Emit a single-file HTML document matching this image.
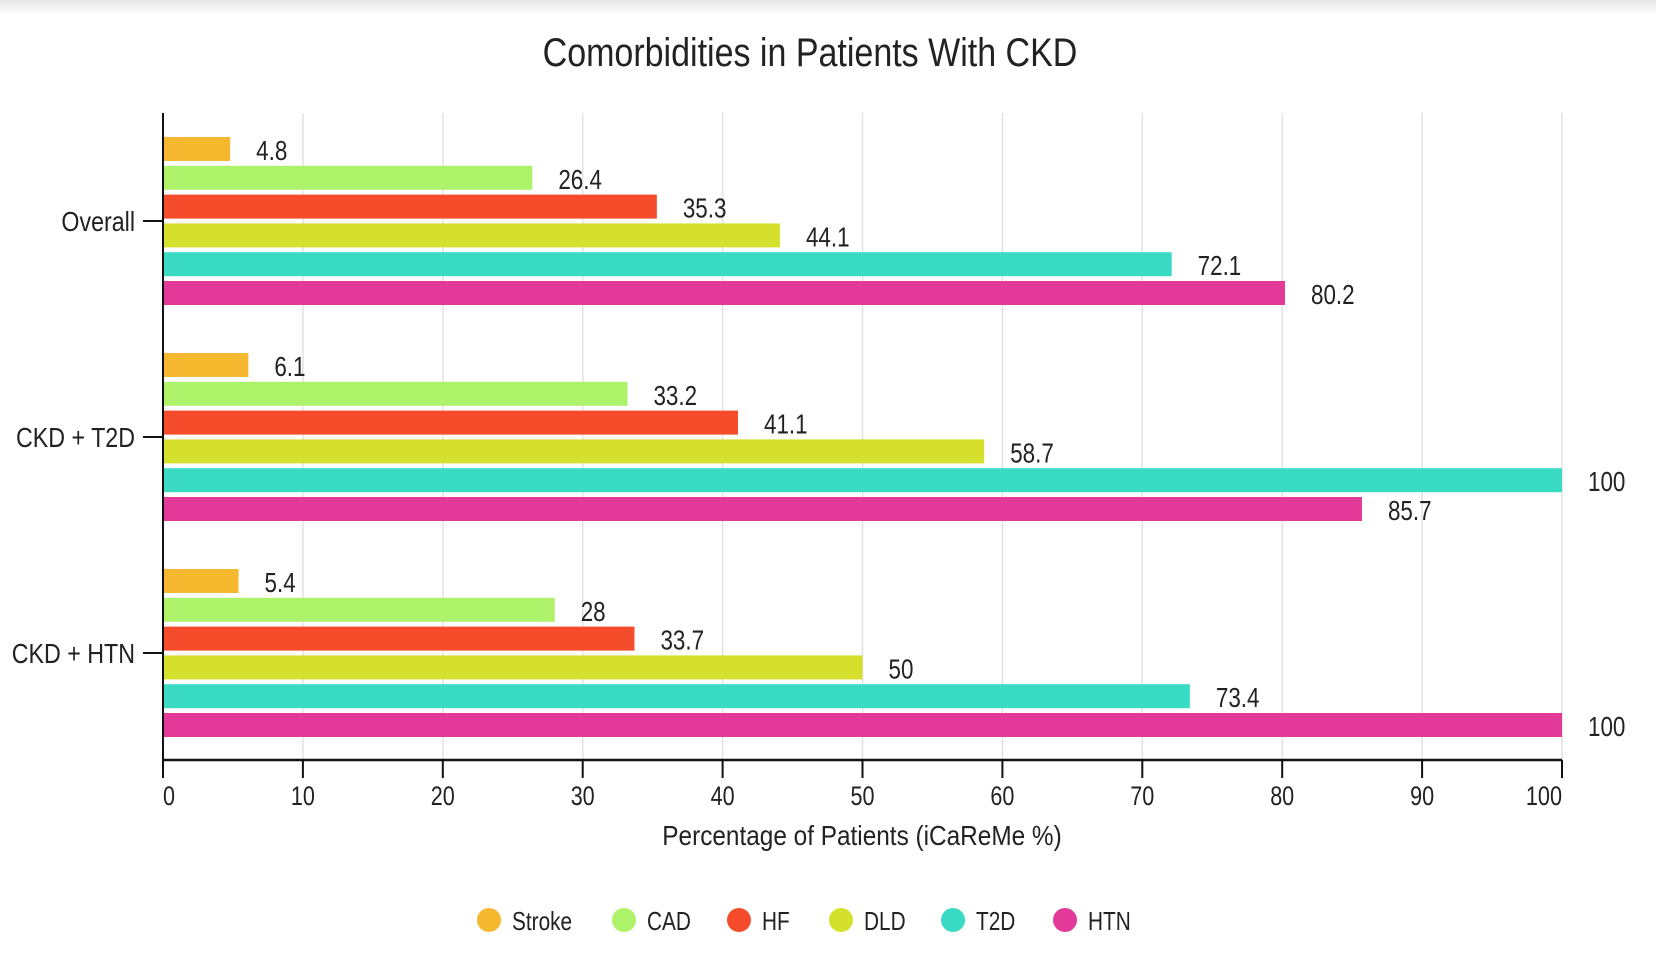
<!DOCTYPE html>
<html><head><meta charset="utf-8"><style>
html,body{margin:0;padding:0;background:#fff;}
body{width:1656px;height:968px;overflow:hidden;position:relative;font-family:"Liberation Sans Narrow","Liberation Sans",sans-serif;}
#shadow{position:absolute;left:0;top:0;width:1656px;height:14px;background:linear-gradient(#e6e6e6,#fff);}
svg text{font-family:"Liberation Sans Narrow","Liberation Sans",sans-serif;fill:#222;}
</style></head><body>
<div id="shadow"></div>
<svg id="chart" width="1656" height="968" style="position:absolute;left:0;top:0"></svg>
<script>
const categories=["Overall","CKD + T2D","CKD + HTN"];
const seriesNames=["Stroke","CAD","HF","DLD","T2D","HTN"];
const strokeVals=[4.8,6.1,5.4];
const cadVals=[26.4,33.2,28];
const hfVals=[35.3,41.1,33.7];
const dldVals=[44.1,58.7,50];
const t2dVals=[72.1,100,73.4];
const htnVals=[80.2,85.7,100];
const xTicks=[0,10,20,30,40,50,60,70,80,90,100];
const colors=["#F5B82E","#AEF26A","#F54D2B","#D4E02B","#3ADBC4","#E33A9A"];
const series=[strokeVals,cadVals,hfVals,dldVals,t2dVals,htnVals];
const svg=document.getElementById('chart');
const NS="http://www.w3.org/2000/svg";
const L=163,R=1562,T=113,B=760;
const x=v=>L+(R-L)*v/100;
const groupTop=i=>137+i*216;
const barStep=28.8,barH=24;
const texts=[];
function mk(tag,attrs,txt,f){const e=document.createElementNS(NS,tag);for(const k in attrs)e.setAttribute(k,attrs[k]);if(txt!==undefined)e.textContent=txt;svg.appendChild(e);if(tag==='text')texts.push([e,f||0.8]);return e;}
const title=mk('text',{x:810,y:66,'text-anchor':'middle','font-size':40},'Comorbidities in Patients With CKD',0.85);


xTicks.forEach(t=>{
  if(t>0){const g=mk('line',{x1:x(t),x2:x(t),y1:T,y2:B,stroke:'#e2e2e2','stroke-width':1.5});
  
  }
  const tk=mk('line',{x1:x(t),x2:x(t),y1:B,y2:B+18,stroke:'#111','stroke-width':2});
  
  
  const lb=mk('text',{x:x(t),y:805,'text-anchor':t===100?'end':(t===0?'start':'middle'),'font-size':27},String(t));
  
  
});
categories.forEach((c,i)=>{
  series.forEach((s,j)=>{
    const y=groupTop(i)+j*barStep;
    const r=mk('rect',{x:L,y:y,width:x(s[i])-L,height:barH,fill:colors[j]});
    
    
    const v=mk('text',{x:x(s[i])+26,y:y+barH/2+11,'font-size':28},String(s[i]));
    
    
  });
  const cy=groupTop(i)+2.5*barStep+barH/2;
  const tk=mk('line',{x1:L-20,x2:L,y1:cy,y2:cy,stroke:'#111','stroke-width':2});
  
  
  const lb=mk('text',{x:L-28,y:cy+10,'text-anchor':'end','font-size':28},c,0.83);
  
  
});
const ya=mk('line',{x1:L,x2:L,y1:T,y2:B,stroke:'#111','stroke-width':2});


const xa=mk('line',{x1:L,x2:R,y1:B,y2:B,stroke:'#111','stroke-width':2.5});


const xt=mk('text',{x:862,y:845,'text-anchor':'middle','font-size':28},'Percentage of Patients (iCaReMe %)',0.87);


const legX=[489,624,739,841,953,1065];
seriesNames.forEach((n,j)=>{
  const c=mk('circle',{cx:legX[j],cy:920,r:12,fill:colors[j]});
  
  
  const t=mk('text',{x:legX[j]+23,y:930,'font-size':26},n);
  
  
});
texts.forEach(([t,f])=>{
  const w=t.getComputedTextLength();
  t.setAttribute('textLength',(w*f).toFixed(1));
  t.setAttribute('lengthAdjust','spacingAndGlyphs');
});
</script>
</body></html>
